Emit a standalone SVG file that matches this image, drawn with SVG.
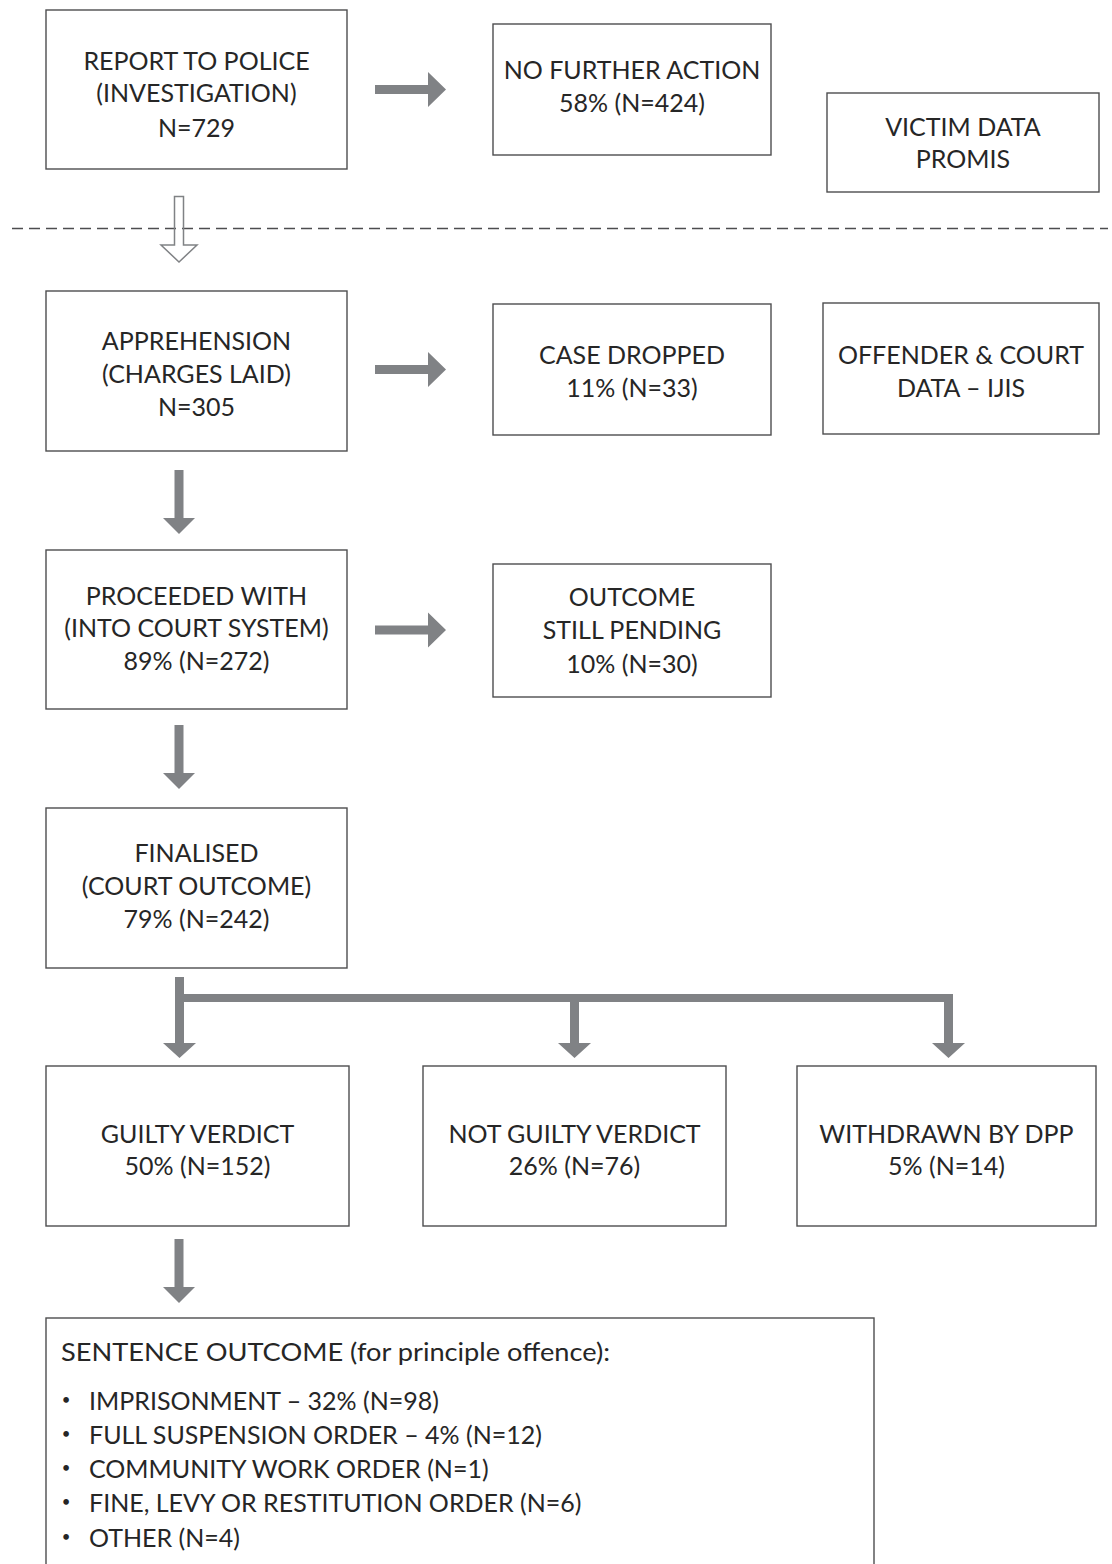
<svg xmlns="http://www.w3.org/2000/svg" width="1112" height="1564" viewBox="0 0 1112 1564">
<style>
.box{fill:#ffffff;stroke:#4d4d4f;stroke-width:1.4}
.t{font-family:Lato,"Open Sans","Liberation Sans",sans-serif;font-weight:400;font-size:25px;fill:#262626;text-anchor:middle}
.l{text-anchor:start;font-size:25px}
.b{font-size:15px;text-anchor:middle}
.arr{fill:#808285}
.hollow{fill:none;stroke:#808285;stroke-width:1.5}
.dash{stroke:#4d4d4f;stroke-width:1.3;stroke-dasharray:11 6;fill:none}
</style>
<defs>
<path id="down" d="M-4.5,-64 H4.5 V-16 H16 L0,0 L-16,-16 H-4.5 Z"/>
<path id="right" d="M-71,-4.5 H-18 V-17.5 L0,0 L-18,17.5 V4.5 H-71 Z"/>
</defs>
<rect width="1112" height="1564" fill="#ffffff"/>
<g id="connectors">
<line class="dash" x1="12" y1="228.5" x2="1108" y2="228.5"/>
<path class="hollow" d="M174.5,196.5 H183.5 V245 H197 L179,262 L161,245 H174.5 Z"/>
<use href="#right" class="arr" x="446" y="89.5"/>
<use href="#right" class="arr" x="446" y="369.5"/>
<use href="#right" class="arr" x="446" y="630"/>
<use href="#down" class="arr" x="179" y="534"/>
<use href="#down" class="arr" x="179" y="789"/>
<use href="#down" class="arr" x="179" y="1303"/>
<rect class="arr" x="175" y="977" width="9" height="25"/>
<rect class="arr" x="175" y="994" width="778" height="8"/>
<path class="arr" d="M175,1000 H184 V1043 H196 L179.5,1058 L163,1043 H175 Z"/>
<path class="arr" d="M570,1000 H579 V1043 H591 L574.5,1058 L558,1043 H570 Z"/>
<path class="arr" d="M944,1000 H953 V1043 H965 L948.5,1058 L932,1043 H944 Z"/>
</g>
<g id="report">
<rect class="box" x="46" y="10" width="301" height="159"/>
<text class="t" x="196.5" y="70">REPORT TO POLICE</text>
<text class="t" x="196.5" y="102">(INVESTIGATION)</text>
<text class="t" x="196.5" y="137">N=729</text>
</g>
<g id="nfa">
<rect class="box" x="493" y="24" width="278" height="131"/>
<text class="t" x="632" y="79">NO FURTHER ACTION</text>
<text class="t" x="632" y="112">58% (N=424)</text>
</g>
<g id="victim">
<rect class="box" x="827" y="93" width="272" height="99"/>
<text class="t" x="963" y="136">VICTIM DATA</text>
<text class="t" x="963" y="168">PROMIS</text>
</g>
<g id="apprehension">
<rect class="box" x="46" y="291" width="301" height="160"/>
<text class="t" x="196.5" y="350">APPREHENSION</text>
<text class="t" x="196.5" y="383">(CHARGES LAID)</text>
<text class="t" x="196.5" y="416">N=305</text>
</g>
<g id="dropped">
<rect class="box" x="493" y="304" width="278" height="131"/>
<text class="t" x="632" y="364">CASE DROPPED</text>
<text class="t" x="632" y="397">11% (N=33)</text>
</g>
<g id="offender">
<rect class="box" x="823" y="303" width="276" height="131"/>
<text class="t" x="961" y="364">OFFENDER &amp; COURT</text>
<text class="t" x="961" y="397">DATA – IJIS</text>
</g>
<g id="proceeded">
<rect class="box" x="46" y="550" width="301" height="159"/>
<text class="t" x="196.5" y="605">PROCEEDED WITH</text>
<text class="t" x="196.5" y="637">(INTO COURT SYSTEM)</text>
<text class="t" x="196.5" y="670">89% (N=272)</text>
</g>
<g id="pending">
<rect class="box" x="493" y="564" width="278" height="133"/>
<text class="t" x="632" y="606">OUTCOME</text>
<text class="t" x="632" y="639">STILL PENDING</text>
<text class="t" x="632" y="673">10% (N=30)</text>
</g>
<g id="finalised">
<rect class="box" x="46" y="808" width="301" height="160"/>
<text class="t" x="196.5" y="862">FINALISED</text>
<text class="t" x="196.5" y="895">(COURT OUTCOME)</text>
<text class="t" x="196.5" y="928">79% (N=242)</text>
</g>
<g id="guilty">
<rect class="box" x="46" y="1066" width="303" height="160"/>
<text class="t" x="197.5" y="1143">GUILTY VERDICT</text>
<text class="t" x="197.5" y="1175">50% (N=152)</text>
</g>
<g id="notguilty">
<rect class="box" x="423" y="1066" width="303" height="160"/>
<text class="t" x="574.5" y="1143">NOT GUILTY VERDICT</text>
<text class="t" x="574.5" y="1175">26% (N=76)</text>
</g>
<g id="withdrawn">
<rect class="box" x="797" y="1066" width="299" height="160"/>
<text class="t" x="946.5" y="1143">WITHDRAWN BY DPP</text>
<text class="t" x="946.5" y="1175">5% (N=14)</text>
</g>
<g id="sentence">
<rect class="box" x="46" y="1318" width="828" height="260"/>
<text class="t l" x="61" y="1361" textLength="549" lengthAdjust="spacingAndGlyphs">SENTENCE OUTCOME (for principle offence):</text>
<text class="t b" x="66" y="1405">•</text>
<text class="t l" x="89" y="1410">IMPRISONMENT – 32% (N=98)</text>
<text class="t b" x="66" y="1439">•</text>
<text class="t l" x="89" y="1444">FULL SUSPENSION ORDER – 4% (N=12)</text>
<text class="t b" x="66" y="1473">•</text>
<text class="t l" x="89" y="1478">COMMUNITY WORK ORDER (N=1)</text>
<text class="t b" x="66" y="1507">•</text>
<text class="t l" x="89" y="1512">FINE, LEVY OR RESTITUTION ORDER (N=6)</text>
<text class="t b" x="66" y="1542">•</text>
<text class="t l" x="89" y="1547">OTHER (N=4)</text>
</g>
</svg>
